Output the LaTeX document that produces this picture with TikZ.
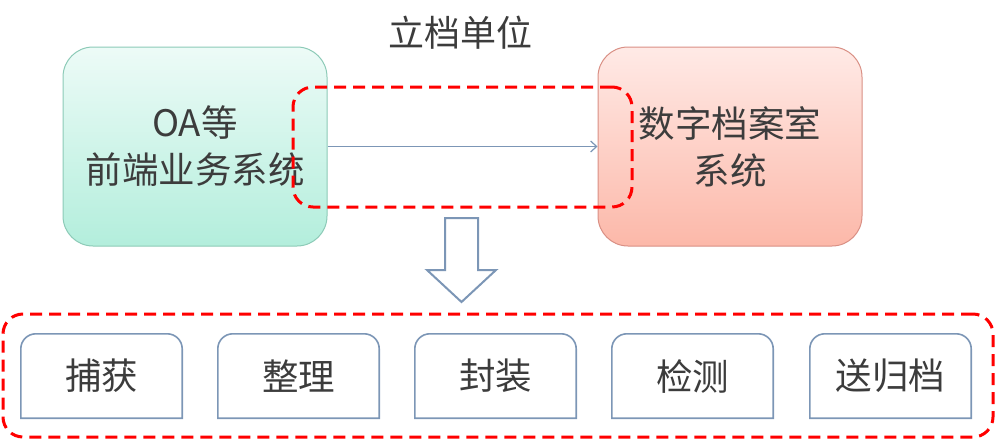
\documentclass[tikz,border=0pt]{standalone}
\usepackage{fontspec}
\newfontfamily\cjk{Noto Sans CJK SC}
\usetikzlibrary{arrows.meta}
\definecolor{txt}{HTML}{3C3C3C}
\definecolor{mintTop}{HTML}{EDFBF7}
\definecolor{mintBot}{HTML}{B3EEDC}
\definecolor{mintLine}{HTML}{8CCAB7}
\definecolor{pinkTop}{HTML}{FFEAE6}
\definecolor{pinkBot}{HTML}{FCB8A9}
\definecolor{pinkLine}{HTML}{D98F84}
\definecolor{steel}{HTML}{7C96B6}
\definecolor{dashred}{HTML}{FF0000}
\tikzset{
  bigbox/.style={draw, line width=1pt, rounded corners=30pt, minimum width=264pt, minimum height=199pt,
    align=center, text=txt, font=\cjk\fontsize{36.5pt}{47pt}\selectfont, inner sep=0pt},
  reddash/.style={draw=dashred, line width=3pt, dash pattern=on 12pt off 7pt, rounded corners=20pt, inner sep=0pt},
  stepbox/.style={minimum width=161pt, minimum height=84pt, inner sep=0pt, text=txt, font=\cjk\fontsize{36.5pt}{42pt}\selectfont},
  stepline/.style={draw=steel, line width=1.6pt},
}
\begin{document}
\begin{tikzpicture}[x=1pt, y=-1pt]
\useasboundingbox (0,0) rectangle (996,440);
% title
\node[text=txt, font=\cjk\fontsize{36pt}{40pt}\selectfont] (title) at (460,33) {立档单位};
% top boxes
\node[bigbox, draw=mintLine, top color=mintTop, bottom color=mintBot] (src) at (195,146.5) {OA等\\前端业务系统};
\node[bigbox, draw=pinkLine, top color=pinkTop, bottom color=pinkBot] (dst) at (730,146.5) {数字档案室\\系统};
\draw[steel, line width=1.2pt, -{Straight Barb[length=6pt, width=11pt]}] (src) -- (dst);
% dashed group over the link
\node[reddash, minimum width=339pt, minimum height=120pt] (grp) at (462.5,147) {};
% down arrow
\coordinate (a1) at (445,218);
\coordinate (a2) at (478,218);
\coordinate (a3) at (478,270);
\coordinate (a4) at (496,270);
\coordinate (a5) at (461.5,302);
\coordinate (a6) at (427,270);
\coordinate (a7) at (445,270);
\draw[steel, line width=2pt, fill=white, line join=miter] (a1) -- (a2) -- (a3) -- (a4) -- (a5) -- (a6) -- (a7) -- cycle;
% bottom frame
\node[reddash, minimum width=990pt, minimum height=123pt] (frame) at (498,375.5) {};
% steps
\foreach \n/\x/\t in {s1/101.5/捕获, s2/298.5/整理, s3/495.5/封装, s4/692.5/检测, s5/890.5/送归档}{
  \node[stepbox] (\n) at (\x,376) {\t};
  \draw[stepline] (\n.south west) [rounded corners=15pt] -- (\n.north west) -- (\n.north east) [sharp corners] -- (\n.south east) -- cycle;
}
\end{tikzpicture}
\end{document}
